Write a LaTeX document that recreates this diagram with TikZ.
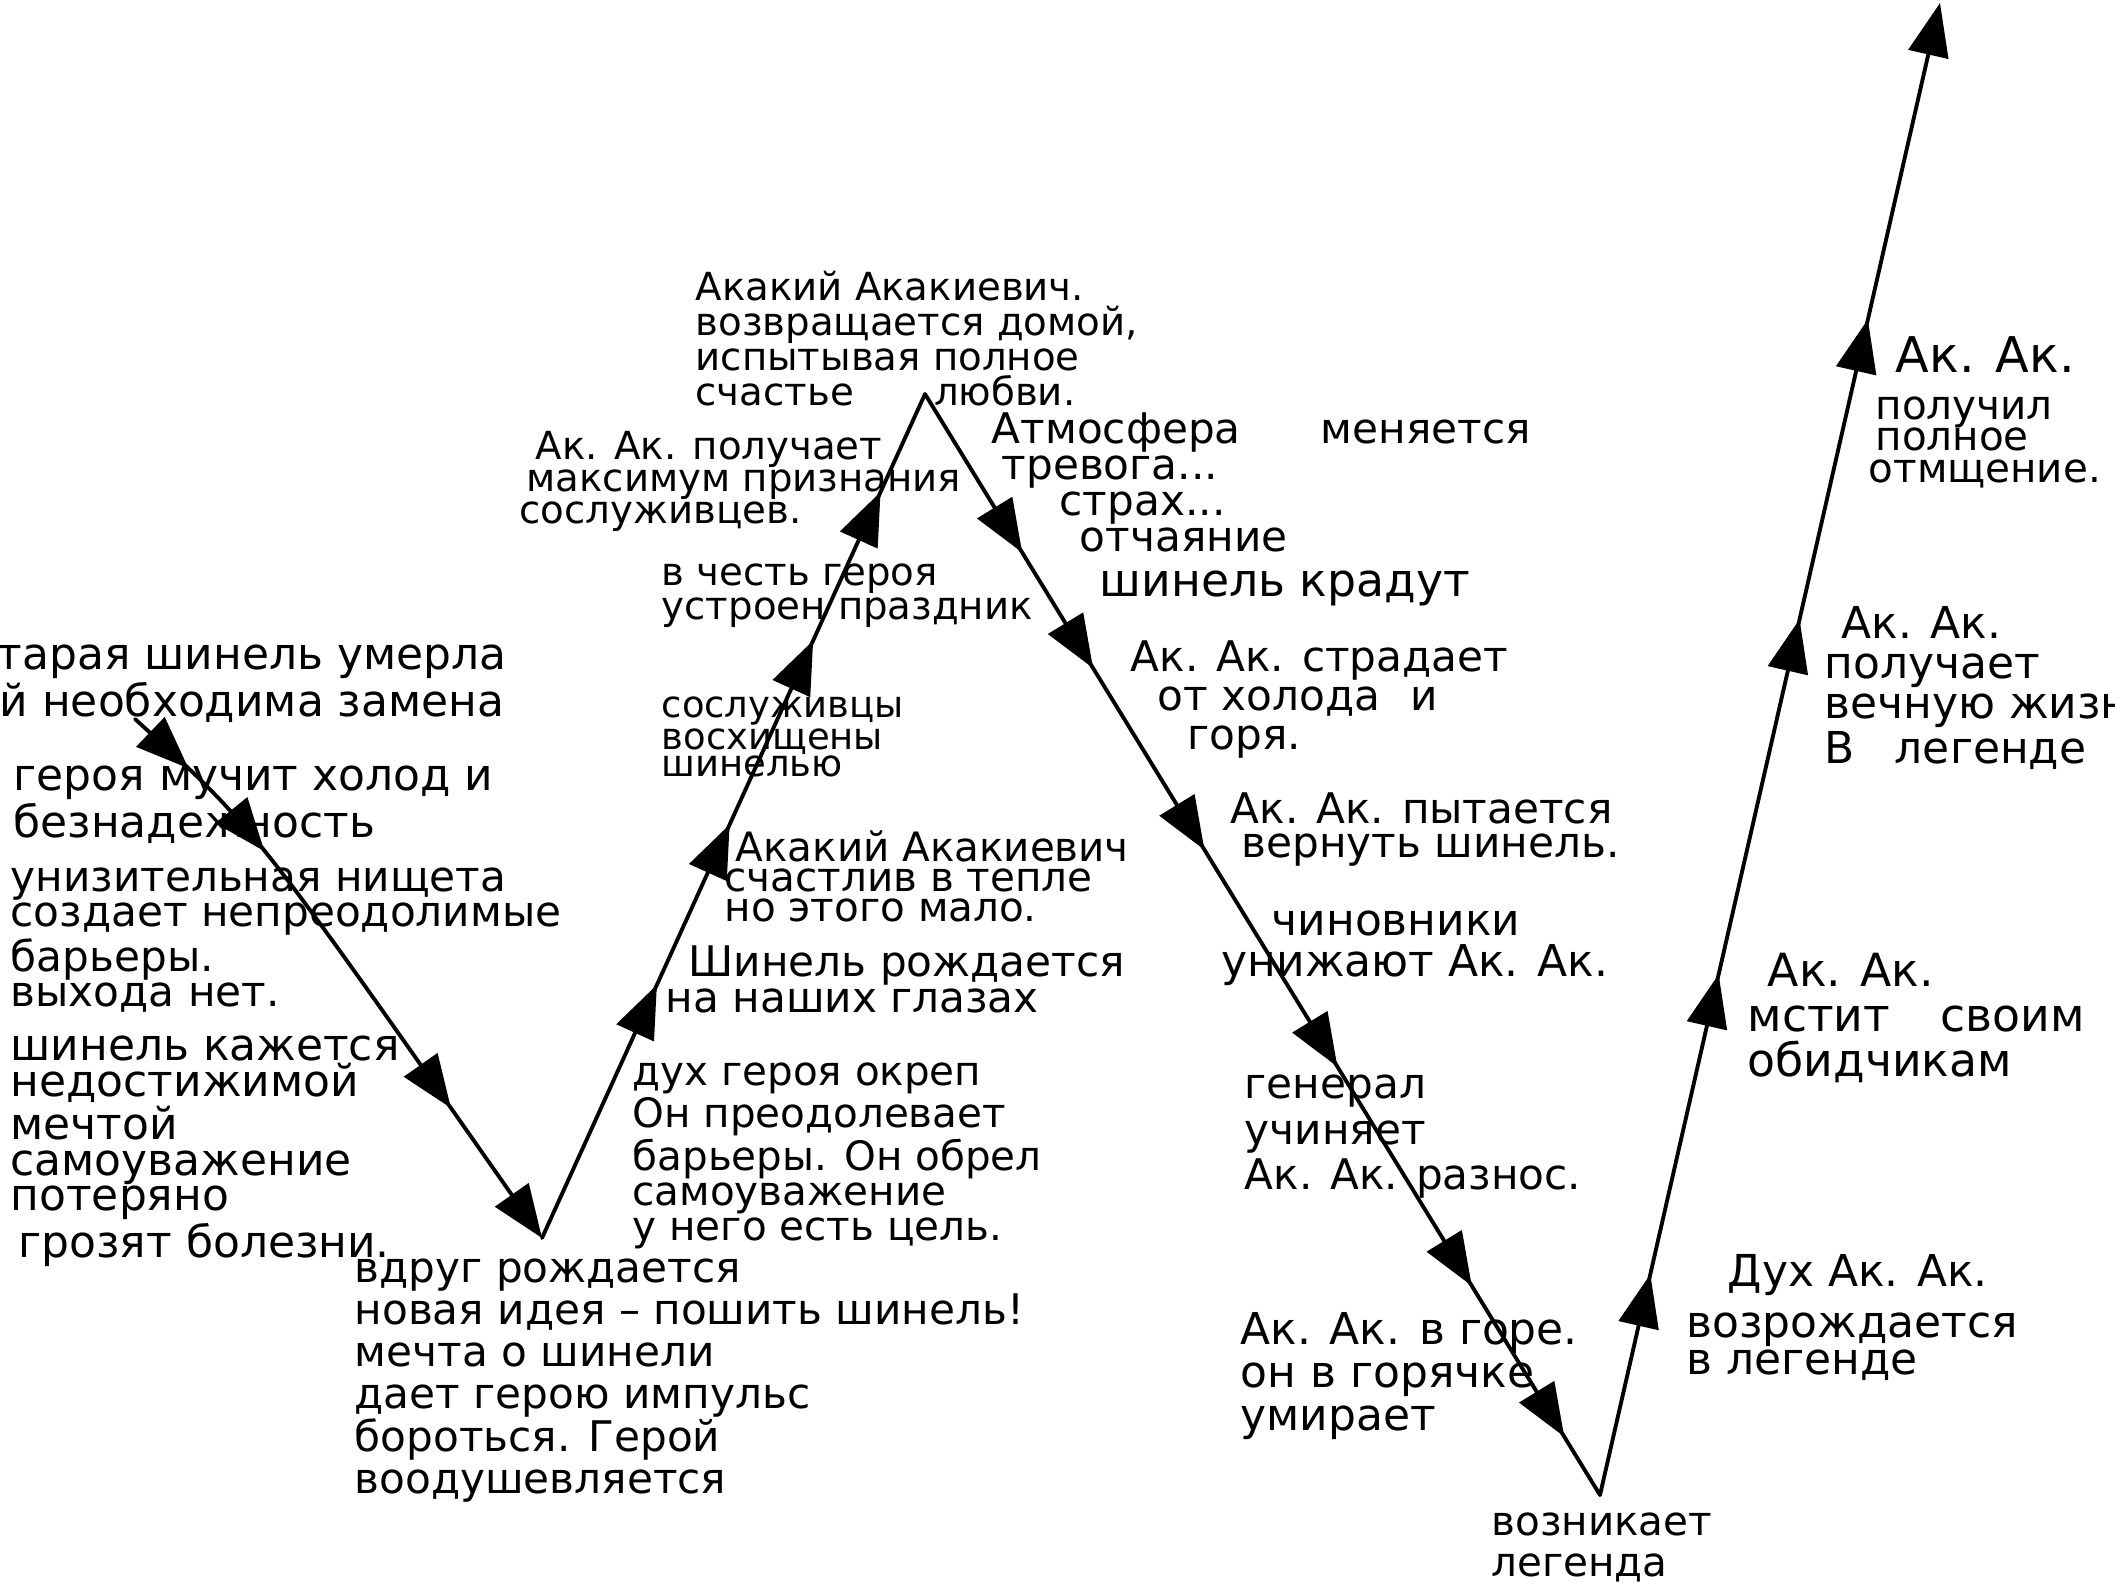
\documentclass[tikz,border=0pt]{standalone}
\usepackage{fontspec}
\setmainfont{DejaVu Sans}
\usetikzlibrary{arrows.meta,decorations.markings}
\newcommand{\fz}[2]{\fontsize{#1}{#2}\selectfont}
\newcommand{\fzt}[2]{\fontsize{#1}{#2}\selectfont\lineskiplimit=-100pt\lineskip=0pt\relax}
\newcommand{\ah}{\arrow{Triangle[length=15pt,width=11.5pt]}}
\tikzset{
  plotline/.style={line width=1.1pt, line cap=round, line join=round},
  endtip/.style={-{Triangle[length=15pt,width=11.5pt]}},
  lbl/.style={anchor=north west, inner sep=0pt, align=left},
}
\begin{document}
\begin{tikzpicture}[x=0.01cm,y=-0.01cm]
\useasboundingbox (0,0) rectangle (2115,1587);
\coordinate (s) at (135,719);
\coordinate (c1) at (255,828);
\coordinate (v1) at (542,1238);
\coordinate (v2) at (925,394);
\coordinate (v3) at (1600,1495);
\coordinate (e) at (1940,3);

\draw[plotline, endtip, postaction={decorate}, decoration={markings,
  mark=at position 0.11 with {\ah}, mark=at position 0.28 with {\ah},
  mark=at position 0.76 with {\ah}}] (s) .. controls (c1) .. (v1);
\draw[plotline, postaction={decorate}, decoration={markings,
  mark=at position 0.30 with {\ah}, mark=at position 0.49 with {\ah},
  mark=at position 0.708 with {\ah}, mark=at position 0.884 with {\ah}}] (v1) -- (v2);
\draw[plotline, postaction={decorate}, decoration={markings,
  mark=at position 0.144 with {\ah}, mark=at position 0.249 with {\ah},
  mark=at position 0.414 with {\ah}, mark=at position 0.611 with {\ah},
  mark=at position 0.81 with {\ah}, mark=at position 0.947 with {\ah}}] (v2) -- (v3);
\draw[plotline, endtip, postaction={decorate}, decoration={markings,
  mark=at position 0.148 with {\ah}, mark=at position 0.349 with {\ah},
  mark=at position 0.587 with {\ah}, mark=at position 0.788 with {\ah}}] (v3) -- (e);

\node[lbl, font=\fz{12.5}{11.1}] (n1) at (-28,644) {старая шинель умерла\\ей необходима замена};
\node[lbl, font=\fz{12.5}{11.4}] (n2) at (13,765) {героя мучит холод и\\безнадежность};
\node[lbl, font=\fz{12}{10}] (n3) at (10,867) {унизительная нищета\\создает непреодолимые\\барьеры.\\выхода нет.};
\node[lbl, font=\fz{12.5}{10.2}] (n4) at (10,1035) {шинель кажется\\недостижимой\\мечтой\\самоуважение\\потеряно\\\hspace*{0.08cm}грозят болезни.};
\node[lbl, font=\fz{12}{12}] (n5) at (354,1258) {вдруг рождается\\новая идея – пошить шинель!\\мечта о шинели\\дает герою импульс\\бороться. Герой\\воодушевляется};
\node[lbl, font=\fz{11.5}{10}] (n6) at (632,1062) {дух героя окреп\\Он преодолевает\\барьеры. Он обрел\\самоуважение\\у него есть цель.};
\node[lbl, font=\fz{12}{10.2}] (n7) at (665,945) {\hspace*{0.23cm}Шинель рождается\\на наших глазах};
\node[lbl, font=\fz{11.5}{8.6}] (n8) at (724,830) {\hspace*{0.11cm}Акакий Акакиевич\\счастлив в тепле\\но этого мало.};
\node[lbl, font=\fz{10.5}{7.7}] (n9) at (661,696) {сослуживцы\\восхищены\\шинелью};
\node[lbl, font=\fz{11}{9.7}] (n10) at (661,563) {в честь героя\\устроен праздник};
\node[lbl, font=\fz{11}{9.1}] (n11) at (519,431) {\hspace*{0.16cm}Ак. Ак. получает\\\hspace*{0.07cm}максимум признания\\сослуживцев.};
\node[lbl, font=\fz{11}{10}] (n12) at (695,270) {Акакий Акакиевич.\\возвращается домой,\\испытывая полное\\счастье\hspace*{0.8cm}любви.};
\node[lbl, font=\fz{12}{10.2}] (n13) at (991,412) {Атмосфера\hspace*{0.8cm}меняется\\\hspace*{0.1cm}тревога...\\\hspace*{0.68cm}страх...\\\hspace*{0.88cm}отчаяние};
\node[lbl, font=\fz{13}{11}] (n14) at (1099,570) {шинель крадут};
\node[lbl, font=\fz{12}{11.1}] (n15) at (1130,640) {Ак. Ак. страдает\\\hspace*{0.27cm}от холода\hspace*{0.3cm}и\\\hspace*{0.57cm}горя.};
\node[lbl, font=\fz{12}{9.7}] (n16) at (1230,792) {Ак. Ак. пытается\\\hspace*{0.11cm}вернуть шинель.};
\node[lbl, font=\fz{12.5}{11.7}] (n17) at (1221,910) {\hspace*{0.5cm}чиновники\\унижают Ак. Ак.};
\node[lbl, font=\fz{12}{13}] (n18) at (1244,1074) {генерал\\учиняет\\Ак. Ак. разнос.};
\node[lbl, font=\fz{12.5}{12.2}] (n19) at (1240,1312) {Ак. Ак. в горе.\\он в горячке\\умирает};
\node[lbl, font=\fz{11.5}{11.7}] (n20) at (1491,1512) {возникает\\легенда};
\node[lbl, font=\fzt{12.5}{10.5}] (n21) at (1686,1254) {\hspace*{0.41cm}Дух Ак. Ак.\\[0.14cm]возрождается\\в легенде};
\node[lbl, font=\fz{13}{12.8}] (n22) at (1747,952) {\hspace*{0.2cm}Ак. Ак.\\мстит\hspace*{0.5cm}своим\\обидчикам};
\node[lbl, font=\fz{12.5}{11.4}] (n23) at (1824,606) {\hspace*{0.17cm}Ак. Ак.\\получает\\вечную жизнь\\В\hspace*{0.4cm}легенде};
\node[lbl, font=\fzt{11.5}{9}] (n24) at (1868,336) {\hspace*{0.27cm}{\fontsize{14}{9}\selectfont Ак. Ак.}\\[0.15cm]\hspace*{0.07cm}получил\\\hspace*{0.07cm}полное\\отмщение.};
\end{tikzpicture}
\end{document}
